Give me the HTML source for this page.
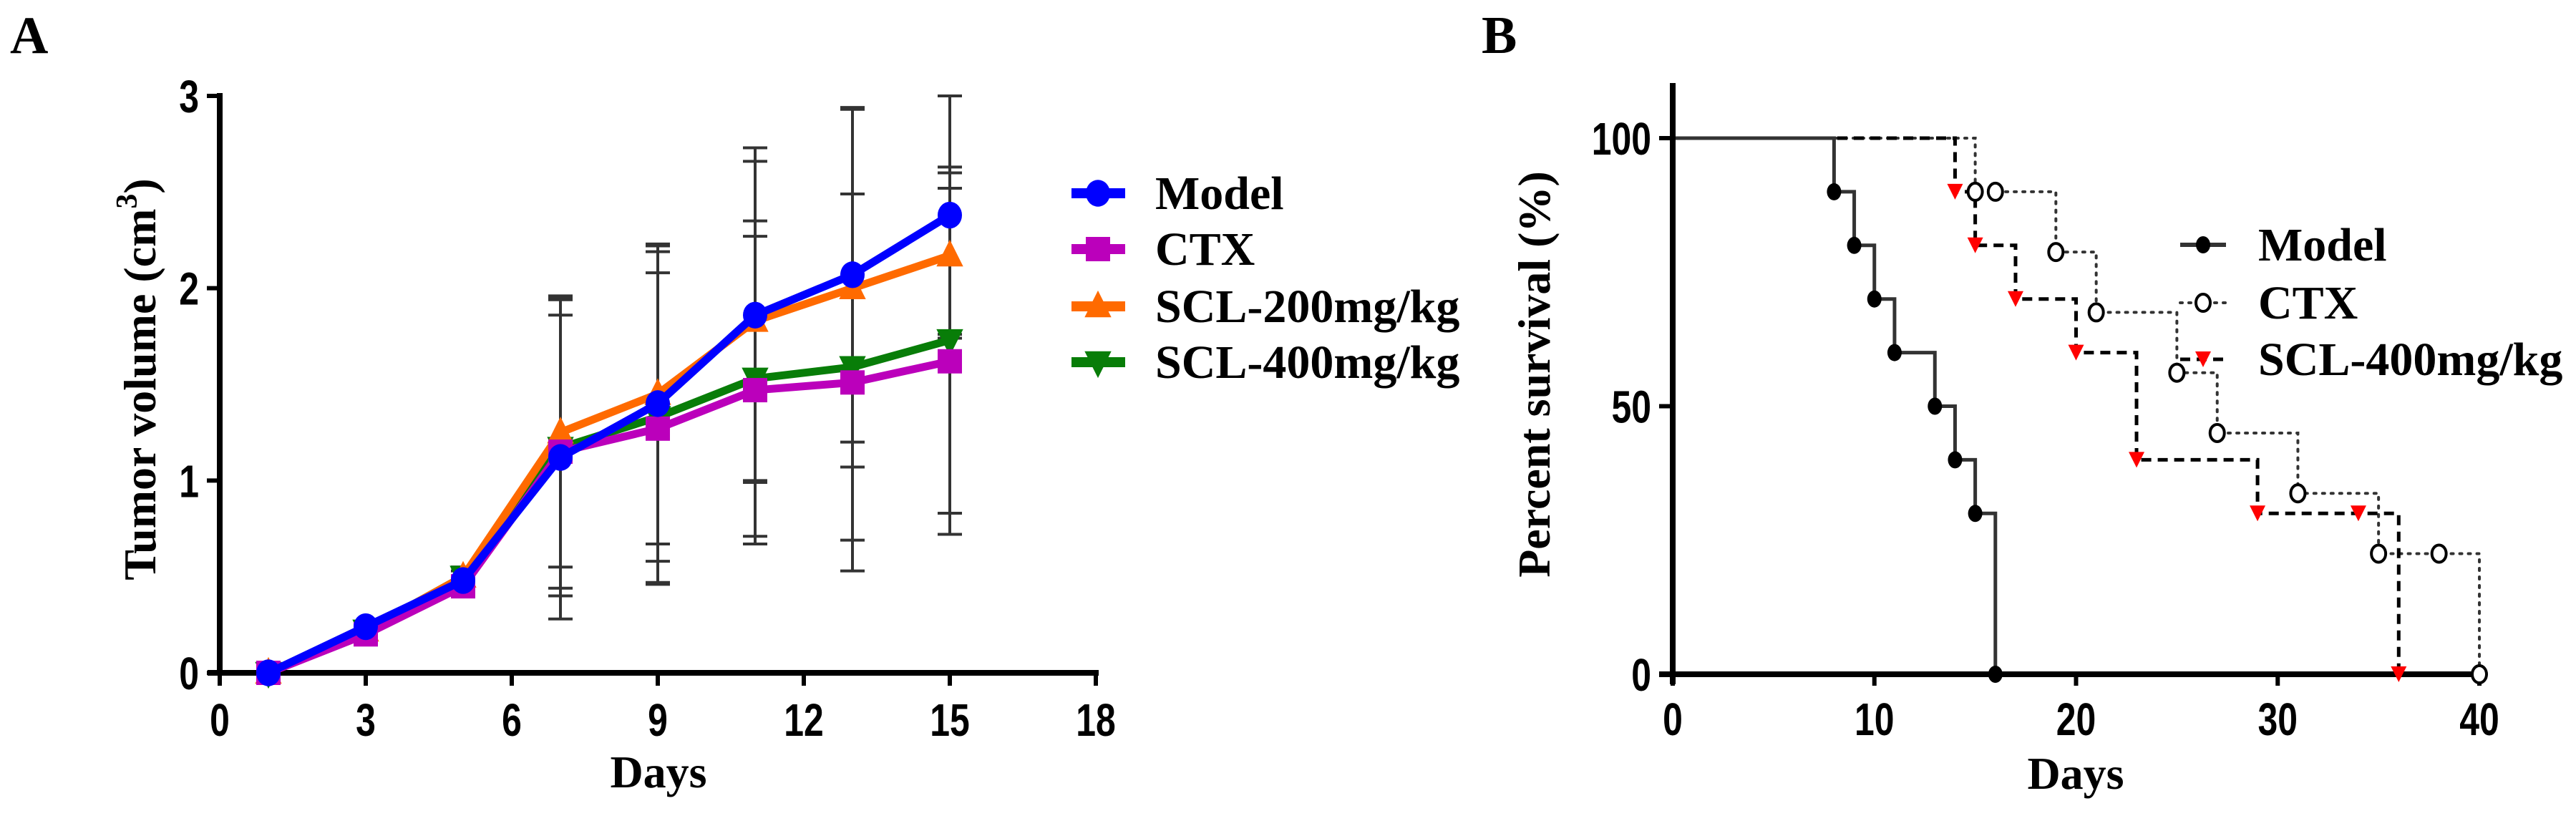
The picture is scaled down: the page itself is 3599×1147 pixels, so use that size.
<!DOCTYPE html>
<html><head><meta charset="utf-8"><style>
html,body{margin:0;padding:0;background:#fff;}
svg{display:block;}
text{font-family:"Liberation Serif",serif;font-weight:bold;fill:#000;}
.tk{font-family:"Liberation Sans",sans-serif;font-weight:bold;font-size:64px;}
</style></head><body>
<svg id="svg" width="3599" height="1147" viewBox="0 0 3599 1147" xmlns="http://www.w3.org/2000/svg">
<text x="14" y="74" font-size="74">A</text>
<text x="2070" y="74" font-size="74">B</text>
<g id="gA"></g>
<g id="gB"></g>
</svg>
<script>
// ---------- Chart A data ----------
const daysA = [1,3,5,7,9,11,13,15];
const modelVol = [0,0.24,0.48,1.12,1.40,1.86,2.07,2.38];
const ctxVol   = [0,0.20,0.45,1.15,1.27,1.47,1.51,1.62];
const scl200Vol= [0,0.22,0.50,1.25,1.45,1.83,2.00,2.17];
const scl400Vol= [0,0.22,0.50,1.17,1.33,1.53,1.59,1.73];
const modelSd  = [0,0.02,0.05,0.84,0.82,0.87,0.87,0.62];
const ctxSd    = [0,0.02,0.05,0.71,0.81,0.80,0.98,0.90];
const scl200Sd = [0,0.02,0.05,0.70,0.78,0.83,0.93,0.43];
const scl400Sd = [0,0.02,0.05,0.77,0.86,0.82,0.90,0.90];
const xTicksA = [0,3,6,9,12,15,18];
const yTicksA = [0,1,2,3];
// ---------- Chart B data ----------
const modelT = [0,8,9,10,11,13,14,15,16];
const modelS = [100,90,80,70,60,50,40,30,0];
const ctxT = [0,15,19,21,25,27,31,35,40];
const ctxS = [100,90,78.75,67.5,56.25,45,33.75,22.5,0];
const ctxCensT = [16,38];
const ctxCensS = [90,22.5];
const sclT = [0,14,15,17,20,23,29,36];
const sclS = [100,90,80,70,60,40,30,0];
const sclCensT = [34];
const sclCensS = [30];
const xTicksB = [0,10,20,30,40];
const yTicksB = [0,50,100];

const NS="http://www.w3.org/2000/svg";
function mk(tag,attrs,parent){const e=document.createElementNS(NS,tag);for(const k in attrs)e.setAttribute(k,attrs[k]);parent.appendChild(e);return e;}

// ===== Chart A =====
const gA=document.getElementById('gA');
const xA=d=>307+d*(1531-307)/18;
const yA=v=>940-v*(940-134)/3;
// error bars
const sdList=[modelSd,ctxSd,scl200Sd,scl400Sd];
const valList=[modelVol,ctxVol,scl200Vol,scl400Vol];
for(let s=0;s<4;s++){
  for(let i=0;i<daysA.length;i++){
    const x=xA(daysA[i]);
    const hi=Math.min(3,valList[s][i]+sdList[s][i]);
    const lo=valList[s][i]-sdList[s][i];
    const l=mk('line',{x1:x,x2:x,y1:yA(hi),y2:yA(lo),stroke:'#333','stroke-width':4},gA);
    
    
    [hi,lo].forEach(v=>{const c=mk('line',{x1:x-17,x2:x+17,y1:yA(v),y2:yA(v),stroke:'#333','stroke-width':4},gA);
      
      });
  }
}
// axes
mk('line',{x1:307,x2:307,y1:130,y2:944,stroke:'#000','stroke-width':8,},gA);
mk('line',{x1:290,x2:1535,y1:940,y2:940,stroke:'#000','stroke-width':8,},gA);
xTicksA.forEach(t=>{
  const x=xA(t);
  const l=mk('line',{x1:x,x2:x,y1:936,y2:958,stroke:'#000','stroke-width':6},gA);
  
  
  const tx=mk('text',{x:x,y:1028,'text-anchor':'middle',class:'tk',transform:`translate(${x},0) scale(0.78,1) translate(${-x},0)`},gA);
  tx.textContent=t;
  
  
});
yTicksA.forEach(t=>{
  const y=yA(t);
  const l=mk('line',{x1:289,x2:311,y1:y,y2:y,stroke:'#000','stroke-width':6},gA);
  
  
  const tx=mk('text',{x:278,y:y+23,'text-anchor':'end',class:'tk',transform:`translate(278,0) scale(0.78,1) translate(-278,0)`},gA);
  tx.textContent=t;
  
  
});
mk('text',{x:920,y:1100,'text-anchor':'middle','font-size':64,},gA).textContent='Days';
const yt=mk('text',{x:0,y:0,'text-anchor':'middle','font-size':64,transform:'translate(217,530) rotate(-90)',},gA);
yt.innerHTML='Tumor volume (cm<tspan font-size="42" dy="-26">3</tspan><tspan dy="26">)</tspan>';

function marker(kind,x,y,color,parent,r){
  let e;
  if(kind==='circle') e=mk('ellipse',{cx:x,cy:y,rx:r,ry:r*1.1,fill:color},parent);
  else if(kind==='square') e=mk('rect',{x:x-r,y:y-r,width:2*r,height:2*r,fill:color},parent);
  else if(kind==='up') e=mk('polygon',{points:`${x},${y-r*1.3} ${x+r*1.1},${y+r*0.9} ${x-r*1.1},${y+r*0.9}`,fill:color},parent);
  else e=mk('polygon',{points:`${x},${y+r*1.3} ${x+r*1.1},${y-r*0.9} ${x-r*1.1},${y-r*0.9}`,fill:color},parent);
  return e;
}
const series=[
  {name:'SCL-400mg/kg',vals:scl400Vol,color:'#087d08',kind:'down',ly:506},
  {name:'SCL-200mg/kg',vals:scl200Vol,color:'#ff6a00',kind:'up',ly:428},
  {name:'CTX',vals:ctxVol,color:'#bb00bb',kind:'square',ly:348},
  {name:'Model',vals:modelVol,color:'#0000ff',kind:'circle',ly:270}];
series.forEach(s=>{
  const pts=daysA.map((d,i)=>`${xA(d)},${yA(s.vals[i])}`).join(' ');
  const pl=mk('polyline',{points:pts,fill:'none',stroke:s.color,'stroke-width':11,'stroke-linejoin':'round'},gA);
  
  
  daysA.forEach((d,i)=>{const m=marker(s.kind,xA(d),yA(s.vals[i]),s.color,gA,17);
    
    });
});
// legend A
series.slice().reverse().forEach(s=>{
  const g=mk('g',{},gA);
  
  
  mk('line',{x1:1497,x2:1572,y1:s.ly,y2:s.ly,stroke:s.color,'stroke-width':14},g);
  marker(s.kind,1534,s.ly,s.color,g,17);
  const t=mk('text',{x:1614,y:s.ly+22,'font-size':66},g);
  t.textContent=s.name;
});

// ===== Chart B =====
const gB=document.getElementById('gB');
const xB=d=>2337+d*(3464-2337)/40;
const yB=v=>942-v*(942-193)/100;
function stepPath(T,S){let p=`M${xB(T[0])},${yB(S[0])}`;for(let i=1;i<T.length;i++){p+=` H${xB(T[i])} V${yB(S[i])}`;}return p;}
const pc=mk('path',{d:stepPath(ctxT,ctxS),fill:'none',stroke:'#333','stroke-width':4,'stroke-dasharray':'3 9','stroke-linecap':'round'},gB);


const ps=mk('path',{d:stepPath(sclT,sclS),fill:'none',stroke:'#000','stroke-width':5,'stroke-dasharray':'14 9'},gB);


const pm=mk('path',{d:stepPath(modelT,modelS),fill:'none',stroke:'#333','stroke-width':5},gB);


// axes B
mk('line',{x1:2337,x2:2337,y1:116,y2:956,stroke:'#000','stroke-width':8,},gB);
mk('line',{x1:2318,x2:3466,y1:942,y2:942,stroke:'#000','stroke-width':8,},gB);
xTicksB.forEach(t=>{
  const x=xB(t);
  const l=mk('line',{x1:x,x2:x,y1:938,y2:958,stroke:'#000','stroke-width':6},gB);
  
  
  const tx=mk('text',{x:x,y:1027,'text-anchor':'middle',class:'tk',transform:`translate(${x},0) scale(0.78,1) translate(${-x},0)`},gB);
  tx.textContent=t;
  
  
});
yTicksB.forEach(t=>{
  const y=yB(t);
  const l=mk('line',{x1:2318,x2:2340,y1:y,y2:y,stroke:'#000','stroke-width':6},gB);
  
  
  const tx=mk('text',{x:2307,y:y+23,'text-anchor':'end',class:'tk',transform:`translate(2307,0) scale(0.78,1) translate(-2307,0)`},gB);
  tx.textContent=t;
  
  
});
mk('text',{x:2900,y:1102,'text-anchor':'middle','font-size':64,},gB).textContent='Days';
mk('text',{x:0,y:0,'text-anchor':'middle','font-size':64,transform:'translate(2165,523) rotate(-90)',},gB).textContent='Percent survival (%)';
// markers B
for(let i=1;i<modelT.length;i++){const m=mk('ellipse',{cx:xB(modelT[i]),cy:yB(modelS[i]),rx:10,ry:12,fill:'#000'},gB);
  
  }
const ctxMT=ctxT.slice(1).concat(ctxCensT), ctxMS=ctxS.slice(1).concat(ctxCensS);
ctxMT.forEach((t,i)=>{const m=mk('ellipse',{cx:xB(t),cy:yB(ctxMS[i]),rx:10,ry:12,fill:'#fff',stroke:'#000','stroke-width':4},gB);
  
  });
const sclMT=sclT.slice(1).concat(sclCensT), sclMS=sclS.slice(1).concat(sclCensS);
sclMT.forEach((t,i)=>{const x=xB(t),y=yB(sclMS[i]);
  const m=mk('polygon',{points:`${x-11},${y-11} ${x+11},${y-11} ${x},${y+11}`,fill:'#ff0000'},gB);
  
  });
// legend B
const lb=[{n:'Model',y:342},{n:'CTX',y:423},{n:'SCL-400mg/kg',y:502}];
lb.forEach((e,i)=>{
  const g=mk('g',{},gB);
  
  
  if(i===0){mk('line',{x1:3046,x2:3110,y1:e.y,y2:e.y,stroke:'#333','stroke-width':6},g);mk('ellipse',{cx:3078,cy:e.y,rx:10,ry:12,fill:'#000'},g);}
  if(i===1){mk('line',{x1:3046,x2:3110,y1:e.y,y2:e.y,stroke:'#333','stroke-width':4,'stroke-dasharray':'3 9','stroke-linecap':'round'},g);mk('ellipse',{cx:3078,cy:e.y,rx:10,ry:12,fill:'#fff',stroke:'#000','stroke-width':4},g);}
  if(i===2){mk('line',{x1:3046,x2:3110,y1:e.y,y2:e.y,stroke:'#000','stroke-width':5,'stroke-dasharray':'14 9'},g);mk('polygon',{points:`3067,${e.y-11} 3089,${e.y-11} 3078,${e.y+11}`,fill:'#ff0000'},g);}
  const t=mk('text',{x:3155,y:e.y+22,'font-size':66},g);
  t.textContent=e.n;
});
</script>
</body></html>
